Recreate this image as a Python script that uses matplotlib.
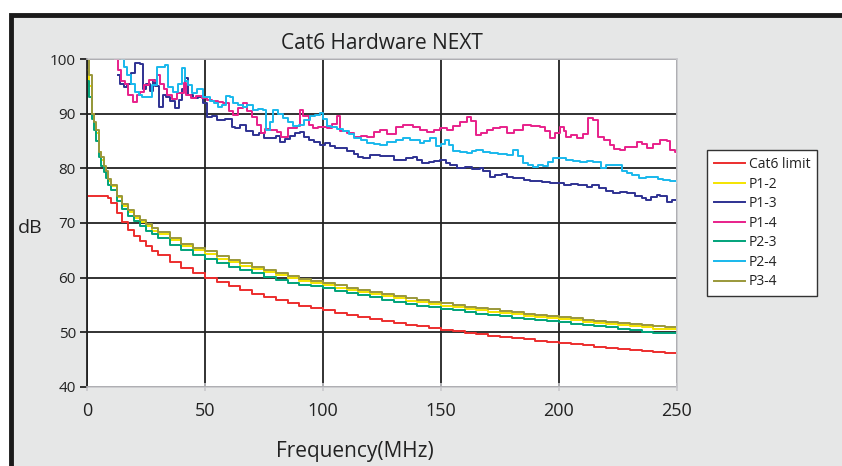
import matplotlib
matplotlib.use("Agg")
import matplotlib.pyplot as plt
from matplotlib.patches import Rectangle

plt.rcParams["font.family"] = ["Open Sans", "DejaVu Sans"]

# frequency grid (MHz) for the smooth curves
freq = [0, 1, 2, 3, 4, 5, 6, 7, 8, 9, 10, 12.5, 15, 17.5, 20, 22.5, 25, 27.5,
        30, 35, 40, 45, 50, 55, 60, 65, 70, 75, 80, 85, 90, 95, 100, 105, 110,
        115, 120, 125, 130, 135, 140, 145, 150, 155, 160, 165, 170, 175, 180,
        185, 190, 195, 200, 205, 210, 215, 220, 225, 230, 235, 240, 245, 250]

cat6_limit = [75, 75, 75, 75, 75, 75, 75, 75, 75, 74.5, 73.7, 71.8, 70.2, 68.8,
              67.7, 66.7, 65.8, 64.9, 64.2, 62.9, 61.8, 60.8, 60.0, 59.2, 58.4,
              57.7, 57.1, 56.5, 55.9, 55.4, 54.9, 54.4, 54.0, 53.6, 53.2, 52.8,
              52.4, 52.1, 51.7, 51.4, 51.1, 50.8, 50.5, 50.2, 49.9, 49.7, 49.4,
              49.1, 48.9, 48.7, 48.4, 48.2, 48.0, 47.8, 47.6, 47.4, 47.2, 47.0,
              46.8, 46.6, 46.4, 46.2, 46.0]

p12 = [98, 95, 90, 88, 86.5, 83, 81.5, 80, 79, 77.7, 76.7, 74.7, 73.2, 72, 71,
       70.1, 69.4, 68.6, 67.9, 66.8, 65.8, 65, 64.3, 63.5, 62.8, 62.2, 61.6, 61,
       60.4, 59.9, 59.4, 59, 58.7, 58.2, 57.8, 57.4, 57, 56.6, 56.2, 55.8, 55.5,
       55.2, 54.9, 54.6, 54.3, 54, 53.8, 53.5, 53.3, 53, 52.8, 52.6, 52.4, 52.2,
       51.9, 51.7, 51.5, 51.3, 51.1, 50.9, 50.7, 50.6, 50.4]

p23 = [96, 93, 89, 87, 85, 82, 80.5, 79.3, 78.3, 77, 76, 74, 72.5, 71.3, 70.3,
       69.4, 68.6, 67.9, 67.2, 66, 65, 64.2, 63.5, 62.7, 62, 61.4, 60.8, 60.2,
       59.6, 59.1, 58.7, 58.4, 58.1, 57.6, 57.2, 56.8, 56.4, 56, 55.6, 55.2,
       54.9, 54.6, 54.3, 54, 53.7, 53.4, 53.1, 52.9, 52.6, 52.4, 52.2, 52, 51.8,
       51.6, 51.3, 51.1, 50.9, 50.6, 50.4, 50.1, 49.9, 49.8, 49.7]

p34 = [100, 97, 90, 88.5, 87, 83, 82, 80.5, 79.5, 78, 77, 75, 73.5, 72.3, 71.3,
       70.5, 69.8, 69, 68.3, 67.2, 66.2, 65.5, 64.8, 64, 63.3, 62.7, 62, 61.4,
       60.8, 60.3, 59.8, 59.4, 59.1, 58.6, 58.2, 57.8, 57.4, 57, 56.6, 56.2,
       55.9, 55.6, 55.3, 55, 54.7, 54.4, 54.2, 53.9, 53.7, 53.4, 53.2, 53, 52.8,
       52.6, 52.3, 52.1, 51.9, 51.7, 51.5, 51.3, 51.1, 50.9, 50.7]

f13 = [13, 14, 15.8, 17, 18.5, 20.3, 22.4, 23.9, 25, 26.5, 27.9, 29, 30.7, 32,
       33.5, 35, 37.3, 39, 40.1, 41.5, 43, 45, 47, 49, 50.7, 52.8, 55, 58.5,
       61.3, 62.6, 65, 67.5, 70.4, 73, 75, 77.5, 80, 81.8, 84, 86, 88, 90.3, 92,
       94, 96, 98.7, 101, 103, 105, 107, 110, 113, 115, 117, 120, 122.7, 124,
       127, 130, 132.6, 135, 138, 140, 142, 145, 147, 149.6, 152, 154, 156.6,
       160, 163, 166.5, 168, 170.8, 173, 176, 178, 180.6, 183, 185, 187.7, 190,
       193, 196, 199, 202, 205, 208, 211.7, 214, 217, 220, 223, 226, 229, 232,
       235, 237, 239, 241.4, 243, 245.6, 248, 250]
p13 = [97, 95.5, 94.9, 95.5, 97.5, 99.2, 99.0, 94.6, 95.5, 94.2, 96.2, 95, 91.3,
       93.4, 93.0, 92.4, 91.0, 92.5, 94.6, 96.5, 93.4, 92.8, 93.1, 92.0, 89.4,
       89.5, 88.8, 89.1, 87.6, 87.3, 88.0, 86.8, 86.1, 86.5, 85.6, 85.5, 85.9,
       84.9, 85.3, 86.0, 86.5, 86.7, 85.8, 85.2, 84.8, 84.3, 84.6, 84.0, 83.8,
       83.7, 83.2, 82.6, 82.0, 81.8, 82.5, 82.4, 82.3, 82.2, 81.5, 81.5, 81.9,
       82.1, 81.6, 80.9, 81.2, 81.3, 81.5, 81.0, 80.6, 80.0, 80.2, 79.9, 80.0,
       79.6, 78.5, 78.8, 78.9, 78.4, 78.2, 78.3, 77.9, 77.6, 77.7, 77.5, 77.4,
       77.3, 77.0, 77.1, 77.0, 76.6, 76.9, 76.4, 75.8, 75.4, 75.6, 75.5, 75.0,
       74.5, 74.2, 74.8, 75.1, 74.9, 73.9, 74.2, 74.0]

f14 = [12, 13, 14.5, 16, 17.5, 19.5, 21, 22.5, 24, 26.4, 28.5, 29.8, 31, 32.6,
       34, 36, 38, 41, 42, 44, 46, 48.6, 50.7, 53, 55.6, 57.8, 60, 62, 64, 66,
       68, 70, 72, 73.9, 75.5, 77.5, 80.4, 82.4, 85, 88.9, 90.3, 91.7, 94, 95.9,
       98, 101.5, 104, 105.8, 107, 110, 113, 116, 118.6, 121.5, 124, 127, 131,
       134, 138, 141, 144, 147, 149.6, 152.4, 155, 158, 160.9, 162.5, 165, 167,
       169.4, 172, 175, 178, 181, 184.9, 188, 192, 194, 196.2, 198.5, 200.4,
       202, 203, 205, 207.5, 210, 212.4, 214.5, 216.7, 219, 221.6, 223.5, 225.8,
       228, 231.5, 233, 235, 237.2, 240, 242.8, 245.6, 247, 249, 250]
p14 = [100, 98, 96, 95.5, 93.5, 92.2, 93.4, 94, 95.3, 96.2, 96.0, 97.1, 95.5,
       94.6, 93.5, 92.7, 93.8, 95.6, 93.4, 92.8, 93.2, 92.8, 92.5, 92.3, 92.2,
       91.9, 90.5, 89.8, 91.0, 91.9, 90.5, 89.4, 88.0, 86.4, 87.2, 87.0, 86.7,
       85.8, 87.3, 87.8, 90.7, 89.5, 88.0, 87.3, 87.5, 87.3, 88.2, 89.5, 86.9,
       86.5, 85.8, 86.0, 85.8, 86.7, 87.0, 86.3, 87.6, 88.0, 87.6, 87.0, 86.7,
       87.0, 87.3, 87.0, 87.8, 88.5, 89.4, 88.7, 86.1, 86.5, 87.0, 87.3, 87.6,
       86.4, 87.0, 87.9, 87.7, 87.6, 86.8, 85.5, 86.5, 87.6, 86.8, 85.8, 86.1,
       85.6, 86.2, 89.2, 88.8, 85.8, 85.2, 84.3, 83.6, 83.4, 83.9, 83.9, 84.9,
       84.4, 83.8, 84.4, 85.2, 85.0, 83.4, 83.0, 82.6]

f24 = [14.7, 15.5, 17, 18.5, 20.5, 22, 23.3, 25.5, 27.4, 29.5, 31, 33, 34.5,
       36.6, 38.5, 40.1, 41.5, 43, 44.3, 46.5, 49.3, 52.1, 54, 55.6, 57, 59,
       60.5, 62, 64, 66, 68, 70.5, 72.5, 74.6, 76, 77.5, 78.9, 81, 83, 85, 87.3,
       90, 92, 94.5, 96.5, 98.7, 100, 101.5, 103.5, 105.8, 108.6, 111, 113, 116,
       118.6, 121.5, 124, 127, 131, 134, 137, 141, 143, 145.3, 148, 150, 151.7,
       153.5, 155.2, 158, 160.9, 163, 165, 168, 170.8, 174, 177.8, 180.6, 182.5,
       184.9, 187, 189, 191, 193.3, 195.5, 197.6, 200, 203, 206, 208.9, 211.7,
       214.5, 218, 220, 222, 224.4, 226.5, 228.7, 231, 234, 237, 240, 242, 244,
       247, 250]
p24 = [100, 98.5, 97, 95.5, 94, 93.5, 93.1, 93.1, 95.2, 98.6, 98.5, 98.9, 94.9,
       94.0, 95.5, 98.3, 96.0, 95.2, 93.8, 94.5, 93.0, 92.3, 92.0, 91.2, 91.6,
       93.2, 93.0, 92.0, 91.6, 91.3, 91.5, 90.7, 90.8, 90.7, 87.0, 88.5, 90.7,
       90.0, 89.2, 88.5, 87.8, 88.0, 88.8, 89.5, 89.8, 90.1, 89.0, 87.8, 87.5,
       87.2, 86.8, 86.3, 85.5, 85.2, 84.6, 84.4, 84.3, 84.8, 85.2, 85.5, 85.2,
       84.6, 85.0, 85.5, 84.0, 84.5, 85.2, 84.2, 83.1, 83.0, 82.8, 83.1, 83.4,
       83.0, 82.8, 82.7, 82.5, 83.4, 82.2, 80.9, 80.6, 80.3, 80.6, 80.5, 81.2,
       81.8, 81.8, 81.5, 81.4, 81.2, 81.3, 81.2, 80.0, 80.6, 80.7, 80.6, 79.6,
       79.1, 78.8, 78.2, 78.4, 78.5, 78.1, 77.9, 77.6, 77.4]

W, H = 842, 466
fig = plt.figure(figsize=(W / 100, H / 100), dpi=100, facecolor="white")

# grey panel with the heavy black frame on the top and left edges
fig.patches.append(Rectangle((10.5 / W, -0.1), 1.2, 1 - 14.5 / H + 0.1,
                             transform=fig.transFigure, facecolor="#e6e7e7",
                             edgecolor="#1a1a1a", linewidth=3.5, zorder=-5))

ax = fig.add_axes([87 / W, 1 - 387 / H, 590 / W, 328 / H])
ax.set_facecolor("white")

ax.plot(freq, cat6_limit, color="#ec2d2d", lw=1.4, drawstyle="steps-post", label="Cat6 limit")
ax.plot(freq, p12, color="#f4e400", lw=1.4, drawstyle="steps-post", label="P1-2")
ax.plot(f13, p13, color="#2e3192", lw=1.4, drawstyle="steps-post", label="P1-3")
ax.plot(f14, p14, color="#e8208a", lw=1.4, drawstyle="steps-post", label="P1-4")
ax.plot(freq, p23, color="#00a37a", lw=1.4, drawstyle="steps-post", label="P2-3")
ax.plot(f24, p24, color="#18b8ec", lw=1.4, drawstyle="steps-post", label="P2-4")
ax.plot(freq, p34, color="#9a983a", lw=1.4, drawstyle="steps-post", label="P3-4")

ax.set_xlim(0, 250)
ax.set_ylim(40, 100)
ax.set_xticks([0, 50, 100, 150, 200, 250])
ax.set_yticks([40, 50, 60, 70, 80, 90, 100])
ax.grid(True, color="#222222", lw=1.3)
ax.set_axisbelow(True)

for side in ("top", "right", "bottom"):
    ax.spines[side].set_color("#c8c8cc")
    ax.spines[side].set_linewidth(1.2)
ax.spines["left"].set_color("#222222")
ax.spines["left"].set_linewidth(1.3)

ax.tick_params(axis="y", colors="#222222", direction="out", length=5, width=1.3,
               labelsize=11, pad=3)
ax.tick_params(axis="x", color="#c8c8cc", direction="inout", length=6, width=1.2,
               labelsize=13, labelcolor="#222222", pad=8)

ax.set_title("Cat6 Hardware NEXT", fontsize=15, color="#222222", pad=7)
fig.text(355 / W, 1 - 452 / H, "Frequency(MHz)", fontsize=15, color="#222222",
         ha="center", va="center")
fig.text(30 / W, 1 - 228 / H, "dB", fontsize=14, color="#222222",
         ha="center", va="center")

leg = fig.legend(loc="upper left", bbox_to_anchor=(707 / W, 1 - 150 / H),
                 fontsize=10, frameon=True, fancybox=False, handlelength=2.2,
                 handletextpad=0.3, labelspacing=0.33, borderpad=0.5,
                 borderaxespad=0)
leg.get_frame().set_edgecolor("#333333")
leg.get_frame().set_facecolor("white")
leg.get_frame().set_alpha(1)
leg.get_frame().set_linewidth(1.0)
for t in leg.get_texts():
    t.set_color("#222222")

fig.savefig("out.png", dpi=100, facecolor=fig.get_facecolor())
